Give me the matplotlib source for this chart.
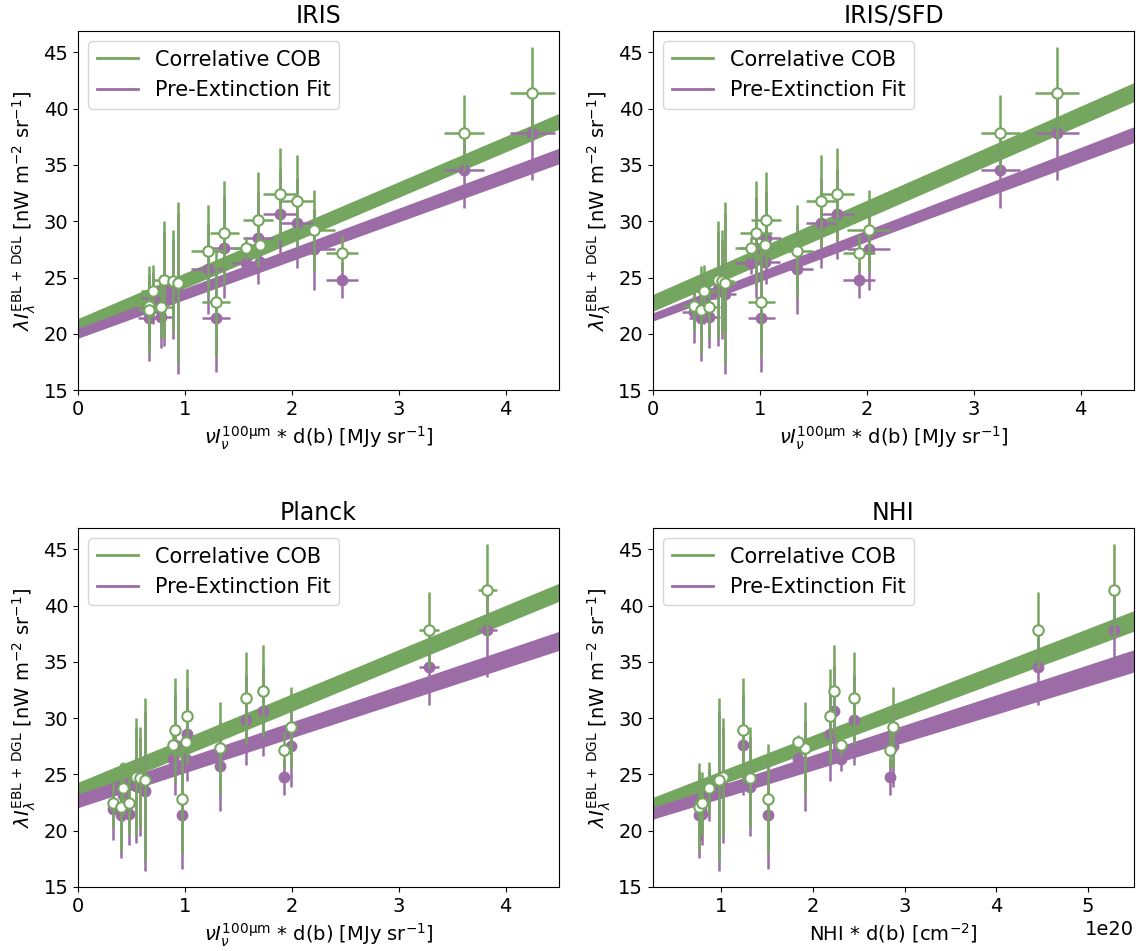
import matplotlib
matplotlib.use("Agg")
import matplotlib.pyplot as plt
import numpy as np
from matplotlib.lines import Line2D

# shared y values (same fields in every panel)
cob = [41.35, 37.85, 32.4, 31.8, 30.15, 29.2, 28.95, 27.33, 27.62, 27.9,
       27.15, 22.86, 24.8, 24.7, 24.55, 23.8, 22.47, 22.08, 22.42]
cob_err = [4.1, 3.4, 4.1, 4.1, 4.2, 3.6, 4.6, 4.1, 1.0, 0.6,
           1.6, 4.8, 5.2, 4.5, 7.2, 2.3, 2.2, 3.9, 2.8]
pre = [37.8, 34.55, 30.67, 29.87, 28.55, 27.52, 27.65, 25.75, 26.33, 26.4,
       24.75, 21.42, 24.0, 23.9, 23.5, 23.15, 21.9, 21.44, 21.52]
pre_err = [4.1, 3.4, 4.0, 4.0, 4.1, 3.6, 4.5, 4.0, 1.0, 0.6,
           1.6, 4.8, 5.1, 4.4, 7.1, 2.3, 2.7, 3.9, 2.8]

# x values per tracer
x_iris = [4.25, 3.61, 1.89, 2.05, 1.68, 2.21, 1.37, 1.22, 1.57, 1.70,
          2.47, 1.29, 0.80, 0.885, 0.935, 0.70, 0.66, 0.667, 0.78]
xerr_iris = [0.21, 0.19, 0.16, 0.16, 0.14, 0.19, 0.14, 0.16, 0.13, 0.14,
             0.15, 0.13, 0.11, 0.11, 0.11, 0.11, 0.11, 0.11, 0.11]
x_sfd = [3.78, 3.25, 1.72, 1.57, 1.06, 2.02, 0.96, 1.35, 0.92, 1.05,
         1.93, 1.015, 0.61, 0.65, 0.67, 0.48, 0.38, 0.45, 0.52]
xerr_sfd = [0.21, 0.18, 0.16, 0.14, 0.14, 0.20, 0.15, 0.15, 0.15, 0.14,
            0.15, 0.13, 0.11, 0.11, 0.11, 0.11, 0.11, 0.11, 0.11]
x_planck = [3.83, 3.28, 1.73, 1.57, 1.02, 1.99, 0.91, 1.33, 0.89, 1.01,
            1.93, 0.97, 0.54, 0.58, 0.63, 0.42, 0.33, 0.40, 0.48]
xerr_planck = [0.09, 0.095, 0.06, 0.03, 0.03, 0.03, 0.03, 0.03, 0.03, 0.03,
               0.03, 0.03, 0.02, 0.02, 0.02, 0.02, 0.02, 0.02, 0.02]
x_nhi = [5.28, 4.45, 2.23, 2.45, 2.18, 2.87, 1.23, 1.91, 2.30, 1.83,
         2.84, 1.51, 1.02, 1.315, 0.97, 0.86, 0.78, 0.76, 0.79]  # x 1e20

# linear fits: intercept, slope, intercept err, slope err
fit_cob = {'IRIS': (20.7, 4.04, 0.66, 0.01), 'IRIS/SFD': (22.75, 4.16, 0.75, 0.022),
           'Planck': (23.55, 3.92, 0.75, 0.011), 'NHI': (21.62, 3.095, 0.55, 0.066)}
fit_pre = {'IRIS': (20.05, 3.5, 0.45, 0.055), 'IRIS/SFD': (21.5, 3.6, 0.37, 0.073),
           'Planck': (22.65, 3.16, 0.6, 0.055), 'NHI': (20.9, 2.58, 0.5, 0.09)}

green = '#75a65f'
purple = '#9c6ca6'

panels = [('IRIS', x_iris, xerr_iris, (0, 4.5), 1.0),
          ('IRIS/SFD', x_sfd, xerr_sfd, (0, 4.5), 1.0),
          ('Planck', x_planck, xerr_planck, (0, 4.5), 1.0),
          ('NHI', x_nhi, None, (0.2525, 5.5), 1e20)]

xlab_dust = r'$\nu I_\nu^{100\mathrm{\mu m}}$ * d(b) [MJy sr$^{-1}$]'
ylab = r'$\lambda I_\lambda^{\mathrm{EBL\,+\,DGL}}$ [nW m$^{-2}$ sr$^{-1}$]'

fig, axs = plt.subplots(2, 2, figsize=(11.39, 9.51), dpi=100)
fig.subplots_adjust(left=0.0685, right=0.9956, bottom=0.0673, top=0.9674,
                    wspace=0.195, hspace=0.384)

for ax, (name, xs, xe, xl, scale) in zip(axs.flat, panels):
    x = np.array(xs) * scale
    xerr = None if xe is None else np.array(xe) * scale
    xx = np.linspace(xl[0], xl[1], 200)
    for fit, col in ((fit_cob[name], green), (fit_pre[name], purple)):
        a, b, sa, sb = fit
        mid = a + b * xx
        hw = sa + sb * xx
        ax.fill_between(xx * scale, mid - hw, mid + hw, color=col, lw=0, zorder=1)
    ax.errorbar(x, pre, yerr=pre_err, xerr=xerr, fmt='o', color=purple,
                ms=7.5, elinewidth=1.8, zorder=2)
    ax.errorbar(x, cob, yerr=cob_err, xerr=xerr, fmt='o', color=green,
                mfc='white', mec=green, mew=1.5, ms=7.5, elinewidth=1.8, zorder=3)
    ax.set_xlim(xl[0] * scale, xl[1] * scale)
    ax.set_ylim(15, 46.9)
    ax.set_yticks([15, 20, 25, 30, 35, 40, 45])
    ax.set_title(name, fontsize=17)
    ax.tick_params(labelsize=14)
    ax.xaxis.get_offset_text().set_fontsize(14)
    if name == 'NHI':
        ax.set_xlabel(r'NHI * d(b) [cm$^{-2}$]', fontsize=14)
    else:
        ax.set_xlabel(xlab_dust, fontsize=14)
    ax.set_ylabel(ylab, fontsize=14)
    handles = [Line2D([], [], color=green, lw=2), Line2D([], [], color=purple, lw=2)]
    ax.legend(handles, ['Correlative COB', 'Pre-Extinction Fit'], loc='upper left',
              fontsize=15)

fig.savefig('out.png', dpi=100)
